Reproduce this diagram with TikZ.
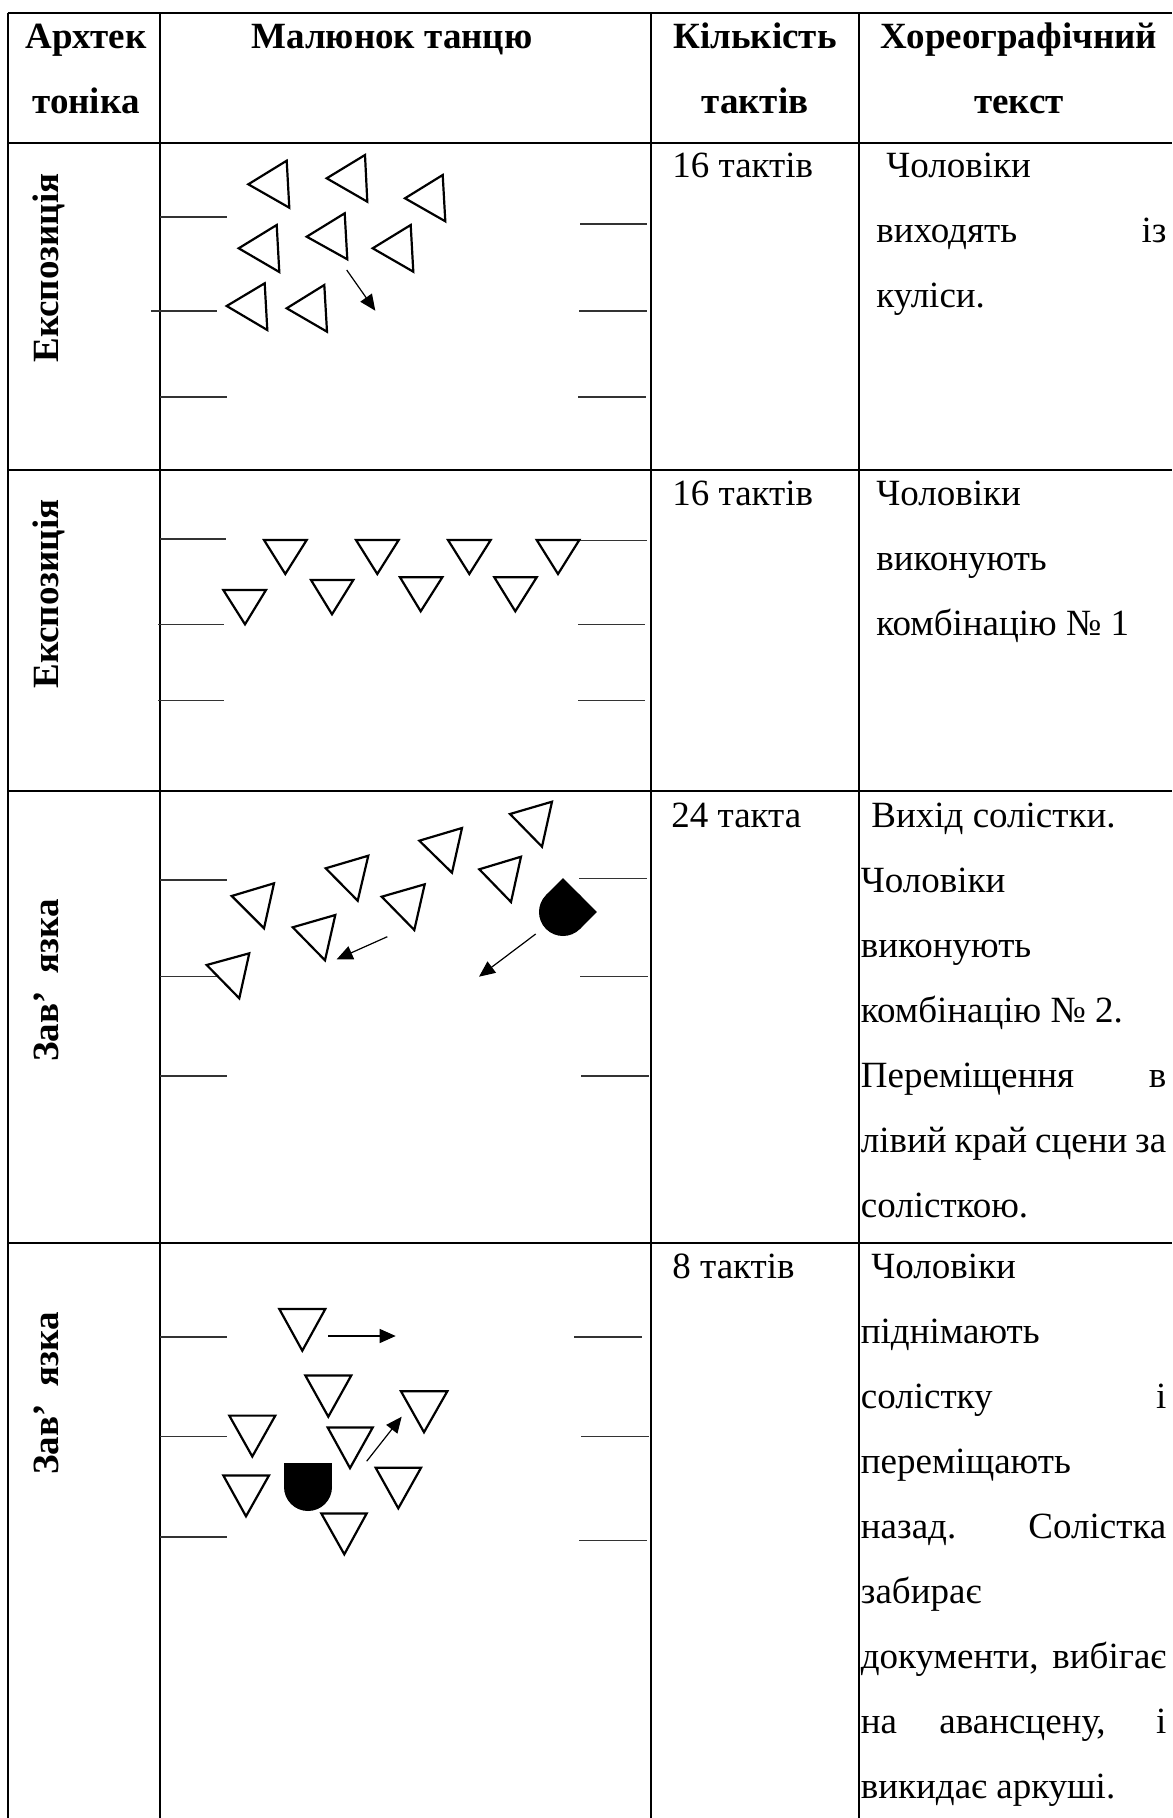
\documentclass[tikz,border=0pt]{standalone}
\usepackage{fontspec}
\setmainfont{Liberation Serif}
\usetikzlibrary{arrows.meta}
\begin{document}
\begin{tikzpicture}[x=0.5pt,y=-0.5pt,
  every node/.style={font=\fontsize{18.5}{32.5}\selectfont, inner sep=0pt},
  txt/.style={anchor=base west},
  hdr/.style={anchor=base, font=\fontsize{18.5}{32.5}\selectfont\bfseries},
  lbl/.style={rotate=90, anchor=base west, font=\fontsize{18.5}{32.5}\selectfont\bfseries},
  grid/.style={line width=1pt},
  wing/.style={line width=0.55pt, black!80},
  tri/.style={draw, line width=1.1pt, line join=miter},
  mv/.style={line width=0.6pt, -{Triangle[length=8pt,width=7pt]}},
  solo/.style={fill=black}]
\useasboundingbox (0,0) rectangle (1172,1818);
\fill[white] (0,0) rectangle (1172,1818);

% ---- table grid
\foreach \yy in {13.5,143,470,791,1243} \draw[grid] (7.5,\yy) -- (1172,\yy);
\foreach \xx in {8,160,651,859} \draw[grid] (\xx,13) -- (\xx,1818);

% ---- header
\node[hdr] (h1a) at (86,49) {Архтек};
\node[hdr] (h1b) at (86,114) {тоніка};
\node[hdr] (h2) at (392,49) {Малюнок танцю};
\node[hdr] (h3a) at (755,49) {Кількість};
\node[hdr] (h3b) at (755,114) {тактів};
\node[hdr] (h4a) at (1019,49) {Хореографічний};
\node[hdr] (h4b) at (1019,114) {текст};

% ---- row labels
\node[lbl] (l1) at (58,363) {Експозиція};
\node[lbl] (l2) at (58,689) {Експозиція};
\node[lbl] (l3) at (58,1062) {Зав’\hspace{4.5pt} язка};
\node[lbl] (l4) at (58,1475) {Зав’\hspace{4.5pt} язка};

% ---- bars column
\node[txt] (c1) at (672,178) {16 тактів};
\node[txt] (c2) at (672,505) {16 тактів};
\node[txt] (c3) at (671,827) {24 такта};
\node[txt] (c4) at (672,1278) {8 тактів};

% ---- text column
\node[txt] (r1a) at (886,178) {Чоловіки};
\node[txt] (r1b) at (876,243) {\makebox[145pt][s]{виходять із}};
\node[txt] (r1c) at (876,308) {куліси.};

\node[txt] (r2a) at (876,505) {Чоловіки};
\node[txt] (r2b) at (876,570) {виконують};
\node[txt] (r2c) at (876,635) {комбінацію № 1};

\node[txt] (r3a) at (871,827) {Вихід солістки.};
\node[txt] (r3b) at (860.5,892) {Чоловіки};
\node[txt] (r3c) at (860.5,957) {виконують};
\node[txt] (r3d) at (860.5,1022) {комбінацію № 2.};
\node[txt] (r3e) at (860.5,1087) {\makebox[152.7pt][s]{Переміщення в}};
\node[txt] (r3f) at (860.5,1152) {\makebox[152.7pt][s]{лівий край сцени за}};
\node[txt] (r3g) at (860.5,1217) {солісткою.};

\node[txt] (r4a) at (871,1278) {Чоловіки};
\node[txt] (r4b) at (860.5,1343) {піднімають};
\node[txt] (r4c) at (860.5,1408) {\makebox[152.7pt][s]{солістку і}};
\node[txt] (r4d) at (860.5,1473) {переміщають};
\node[txt] (r4e) at (860.5,1538) {\makebox[152.7pt][s]{назад. Солістка}};
\node[txt] (r4f) at (860.5,1603) {забирає};
\node[txt] (r4g) at (860.5,1668) {\makebox[152.7pt][s]{документи, вибігає}};
\node[txt] (r4h) at (860.5,1733) {\makebox[152.7pt][s]{на авансцену, і}};
\node[txt] (r4i) at (860.5,1798) {викидає аркуші.};

% ---- wings
\draw[wing] (160,217) -- (227,217);  \draw[wing] (151,311) -- (217,311);  \draw[wing] (160,397) -- (227,397);
\draw[wing] (580,224) -- (647,224);  \draw[wing] (579,311) -- (647,311);  \draw[wing] (578,397) -- (646,397);
\draw[wing] (160,539) -- (226,539);  \draw[wing] (158,624.7) -- (224,624.7);  \draw[wing] (158,700.7) -- (224,700.7);
\draw[wing] (580,540.7) -- (646.7,540.7);  \draw[wing] (578,624.7) -- (645,624.7);  \draw[wing] (578,700.7) -- (645,700.7);
\draw[wing] (160,880) -- (227,880);  \draw[wing] (160,976.7) -- (216.7,976.7);  \draw[wing] (160,1076) -- (227,1076);
\draw[wing] (579.3,878.3) -- (646.7,878.3);  \draw[wing] (580,976.7) -- (648,976.7);  \draw[wing] (581,1076) -- (649,1076);
\draw[wing] (160,1337) -- (227,1337);  \draw[wing] (160,1436.6) -- (227,1436.6);  \draw[wing] (160,1537) -- (227,1537);
\draw[wing] (574,1337) -- (641.7,1337);  \draw[wing] (581,1436.6) -- (649,1436.6);  \draw[wing] (579,1540.6) -- (647,1540.6);

% ---- row 1 dancers
\draw[tri] (248.3,184.3) -- (286.7,160.7) -- (289.3,207.7) -- cycle;
\draw[tri] (326.7,178.3) -- (365,155) -- (367.3,201.7) -- cycle;
\draw[tri] (405,198.3) -- (442.7,175) -- (445.3,221.3) -- cycle;
\draw[tri] (238.7,248.3) -- (276.7,225) -- (279.3,272) -- cycle;
\draw[tri] (306.7,236.7) -- (344.7,213.3) -- (347.3,259.3) -- cycle;
\draw[tri] (372.7,248.3) -- (410.7,225) -- (413.3,271.7) -- cycle;
\draw[tri] (226.7,306) -- (264.7,283.3) -- (267.3,330) -- cycle;
\draw[tri] (286.7,308.3) -- (324.3,285) -- (327,331.7) -- cycle;
\coordinate (a1s) at (346.7,270); \coordinate (a1e) at (375.3,310.7);
\draw[mv] (a1s) -- (a1e);

% ---- row 2 dancers
\draw[tri] (223.3,590) -- (266,590) -- (245,624.3) -- cycle;
\draw[tri] (264,540) -- (306.7,540) -- (285.3,574) -- cycle;
\draw[tri] (311,580) -- (353.3,580) -- (332,614.3) -- cycle;
\draw[tri] (356,540) -- (398.7,540) -- (377.3,574) -- cycle;
\draw[tri] (400,577.3) -- (442.3,577.3) -- (420.7,611.3) -- cycle;
\draw[tri] (448,540) -- (490.7,540) -- (469.3,574) -- cycle;
\draw[tri] (494.3,577.3) -- (536.7,577.3) -- (515.3,611.3) -- cycle;
\draw[tri] (536.7,540) -- (579.3,540) -- (558,574) -- cycle;

% ---- row 3 dancers
\draw[tri] (231.7,896) -- (274,883.3) -- (264,928.3) -- cycle;
\draw[tri] (325.7,868.3) -- (368.3,855.7) -- (357.7,900.7) -- cycle;
\draw[tri] (419.3,840.7) -- (462,828) -- (452,872.7) -- cycle;
\draw[tri] (510,814) -- (552,801.7) -- (542,846.7) -- cycle;
\draw[tri] (479.3,869.3) -- (521,856.7) -- (511,902) -- cycle;
\draw[tri] (381.7,896.7) -- (424.7,884.3) -- (414.3,930) -- cycle;
\draw[tri] (292.7,927.3) -- (335.3,915) -- (325,960.3) -- cycle;
\draw[tri] (206.7,965) -- (249.3,953.3) -- (239.3,998.3) -- cycle;
\begin{scope}[shift={(563,912)}, rotate=-45]
  \fill[solo] (-24,-24) rectangle (24,0);
  \fill[solo] (0,0) circle (12pt);
\end{scope}
\coordinate (a2s) at (387.3,936.7); \coordinate (a2e) at (336.7,959.3);
\coordinate (a3s) at (535.7,934); \coordinate (a3e) at (479,976.7);
\draw[mv] (a2s) -- (a2e);
\draw[mv] (a3s) -- (a3e);

% ---- row 4 dancers
\draw[tri] (279.3,1309) -- (325.3,1309) -- (302.3,1350.7) -- cycle;
\draw[tri] (305.3,1375.4) -- (351.3,1375.4) -- (328.3,1416.7) -- cycle;
\draw[tri] (401,1391.3) -- (447.3,1391.3) -- (424,1432.2) -- cycle;
\draw[tri] (229.3,1415.6) -- (275.3,1415.6) -- (252.3,1456.5) -- cycle;
\draw[tri] (327.7,1427.5) -- (372.7,1427.5) -- (350,1468.1) -- cycle;
\draw[tri] (223.3,1475.4) -- (269,1475.4) -- (246,1516.3) -- cycle;
\draw[tri] (375.7,1467.8) -- (421,1467.8) -- (398.3,1508.3) -- cycle;
\draw[tri] (321.3,1513.4) -- (366.7,1513.4) -- (344.3,1554.3) -- cycle;
\begin{scope}[shift={(308,1487)}]
  \fill[solo] (-24,-24) rectangle (24,0);
  \fill[solo] (0,0) circle (12pt);
\end{scope}
\coordinate (a4s) at (328.3,1336); \coordinate (a4e) at (395.7,1336);
\coordinate (a5s) at (366.7,1461.2); \coordinate (a5e) at (401.7,1416.7);
\draw[mv] (a4s) -- (a4e);
\draw[mv] (a5s) -- (a5e);
\end{tikzpicture}
\end{document}
